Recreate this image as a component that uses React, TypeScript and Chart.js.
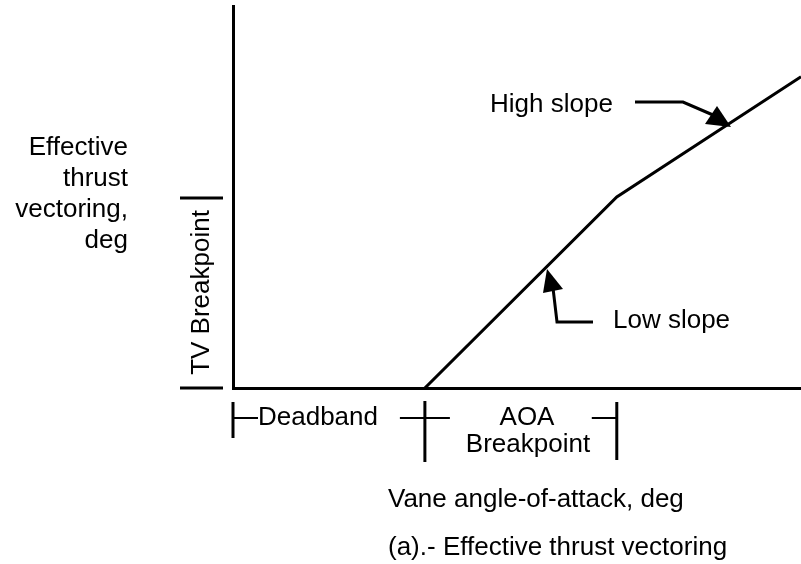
import React, { useEffect, useRef } from "react";
import { Chart, registerables } from "chart.js";

Chart.register(...registerables);

// Data (normalised units: 1 = deadband / AOA breakpoint width, 1 = TV breakpoint)
const vaneAngle = [1, 2, 2.96];
const effectiveTV = [0, 1, 1.63];
const X_MAX = 2.96;
const Y_MAX = 2;

const yTitleLines = ["Effective", "thrust", "vectoring,", "deg"];
const xTitle = "Vane angle-of-attack, deg";
const caption = "(a).- Effective thrust vectoring";
const highLabel = "High slope";
const lowLabel = "Low slope";
const deadbandLabel = "Deadband";
const aoaLabel = ["AOA", "Breakpoint"];
const tvLabel = "TV Breakpoint";

const FONT = '26px "Liberation Sans", Arial, Helvetica, sans-serif';

const annotate = {
  id: "annotate",
  afterDraw(chart: any) {
    const ctx: CanvasRenderingContext2D = chart.ctx;
    const xs = chart.scales.x;
    const ys = chart.scales.y;
    const x0 = xs.getPixelForValue(0);
    const x1 = xs.getPixelForValue(1);
    const x2 = xs.getPixelForValue(2);
    const yb = ys.getPixelForValue(0);
    const y1 = ys.getPixelForValue(1);
    ctx.save();
    ctx.strokeStyle = "#000";
    ctx.fillStyle = "#000";
    ctx.lineCap = "butt";
    const line = (pts: number[][], w: number) => {
      ctx.lineWidth = w;
      ctx.beginPath();
      ctx.moveTo(pts[0][0], pts[0][1]);
      for (let i = 1; i < pts.length; i++) ctx.lineTo(pts[i][0], pts[i][1]);
      ctx.stroke();
    };
    const tri = (pts: number[][]) => {
      ctx.beginPath();
      ctx.moveTo(pts[0][0], pts[0][1]);
      ctx.lineTo(pts[1][0], pts[1][1]);
      ctx.lineTo(pts[2][0], pts[2][1]);
      ctx.closePath();
      ctx.fill();
    };

    // x-axis brackets
    const hy = yb + 30;
    line([[x0, yb + 14], [x0, yb + 50]], 3);
    line([[x0, hy], [x0 + 25, hy]], 2);
    line([[x1, yb + 13], [x1, yb + 74]], 3);
    line([[x1 - 25, hy], [x1 + 25, hy]], 2);
    line([[x2, yb + 14], [x2, yb + 72]], 3);
    line([[x2 - 25, hy], [x2, hy]], 2);

    // y-axis bracket
    line([[180, y1 + 1], [223, y1 + 1]], 3);
    line([[180, yb], [223, yb]], 3);

    ctx.font = FONT;
    ctx.textBaseline = "alphabetic";

    ctx.textAlign = "left";
    ctx.fillText(deadbandLabel, 258, yb + 37);
    ctx.textAlign = "center";
    ctx.fillText(aoaLabel[0], 527, yb + 37);
    ctx.fillText(aoaLabel[1], 528, yb + 64);

    // rotated TV label
    ctx.save();
    ctx.translate(209, (y1 + yb) / 2);
    ctx.rotate(-Math.PI / 2);
    ctx.textAlign = "center";
    ctx.fillText(tvLabel, 0, 0);
    ctx.restore();

    // y title
    ctx.textAlign = "right";
    yTitleLines.forEach((t, i) => ctx.fillText(t, 128, 155 + i * 31));

    // x title & caption
    ctx.textAlign = "left";
    ctx.fillText(xTitle, 388, 507);
    ctx.fillText(caption, 388, 555);

    // High slope
    ctx.fillText(highLabel, 490, 112);
    line([[635, 102], [683, 102], [713, 115]], 3);
    tri([[705, 124], [717, 106], [731, 127]]);

    // Low slope
    ctx.fillText(lowLabel, 613, 328);
    line([[553, 288], [557, 322], [593, 322]], 3);
    tri([[543, 293], [563, 289], [547, 269]]);

    ctx.restore();
  },
};

export default function App() {
  const ref = useRef<HTMLCanvasElement>(null);
  useEffect(() => {
    document.body.style.margin = "0";
    const chart = new Chart(ref.current!, {
      type: "line",
      data: {
        datasets: [
          {
            data: vaneAngle.map((x, i) => ({ x, y: effectiveTV[i] })),
            borderColor: "#000",
            borderWidth: 3,
            pointRadius: 0,
            fill: false,
            tension: 0,
          },
        ],
      },
      options: {
        animation: false,
        responsive: false,
        maintainAspectRatio: false,
        plugins: { legend: { display: false }, tooltip: { enabled: false } },
        layout: { padding: { left: 233, top: 6, right: 0, bottom: 176 } },
        scales: {
          x: {
            type: "linear",
            min: 0,
            max: X_MAX,
            ticks: { display: false },
            grid: { display: false, drawTicks: false },
            border: { display: true, color: "#000", width: 3 },
            afterFit: (s: any) => {
              s.height = 0;
            },
          },
          y: {
            type: "linear",
            min: 0,
            max: Y_MAX,
            ticks: { display: false },
            grid: { display: false, drawTicks: false },
            border: { display: true, color: "#000", width: 3 },
            afterFit: (s: any) => {
              s.width = 0;
            },
          },
        },
      },
      plugins: [annotate],
    });
    return () => chart.destroy();
  }, []);
  return (
    <div style={{ position: "fixed", left: 0, top: 0, width: 801, height: 564, background: "#fff" }}>
      <canvas ref={ref} width={801} height={564} style={{ width: 801, height: 564 }} />
    </div>
  );
}
